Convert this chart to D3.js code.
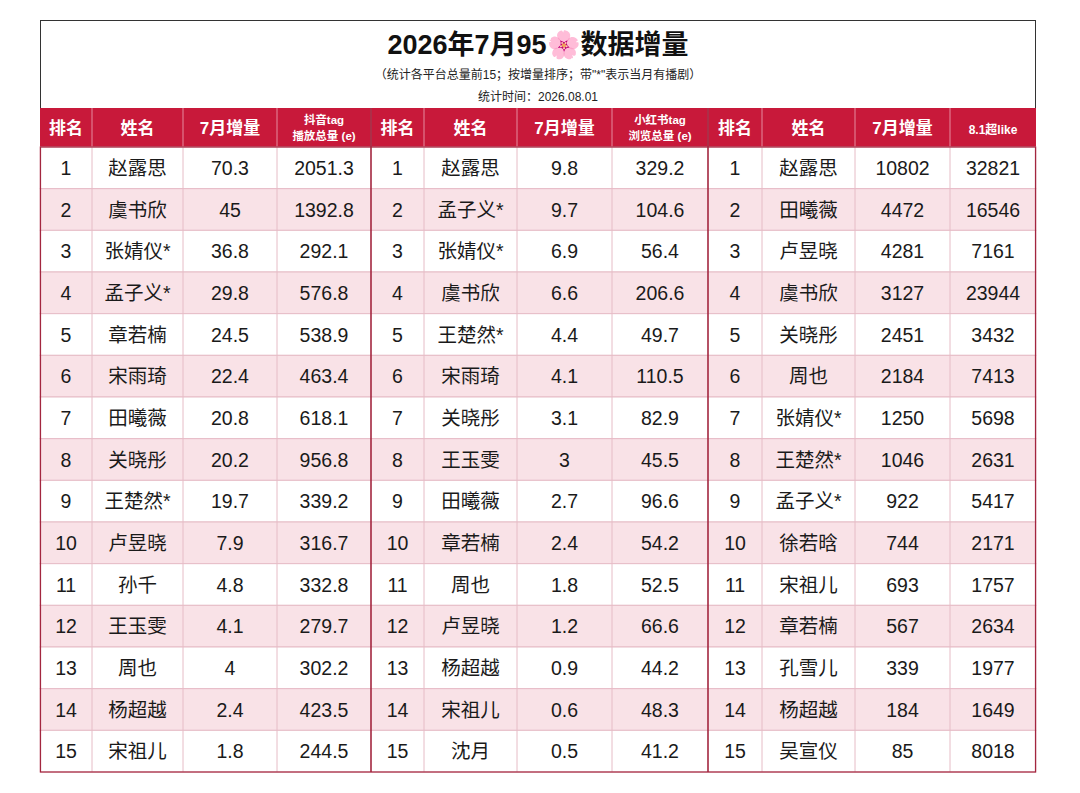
<!DOCTYPE html>
<html><head><meta charset="utf-8">
<script src="https://cdn.jsdelivr.net/npm/d3@7"></script>
<style>body{margin:0;background:#fff}svg{display:block}</style>
</head><body>
<script>
// data
const ranks = d3.range(1, 16);
const douyinNames = ['赵露思','虞书欣','张婧仪*','孟子义*','章若楠','宋雨琦','田曦薇','关晓彤','王楚然*','卢昱晓','孙千','王玉雯','周也','杨超越','宋祖儿'];
const douyinInc = ['70.3','45','36.8','29.8','24.5','22.4','20.8','20.2','19.7','7.9','4.8','4.1','4','2.4','1.8'];
const douyinTotal = ['2051.3','1392.8','292.1','576.8','538.9','463.4','618.1','956.8','339.2','316.7','332.8','279.7','302.2','423.5','244.5'];
const xhsNames = ['赵露思','孟子义*','张婧仪*','虞书欣','王楚然*','宋雨琦','关晓彤','王玉雯','田曦薇','章若楠','周也','卢昱晓','杨超越','宋祖儿','沈月'];
const xhsInc = ['9.8','9.7','6.9','6.6','4.4','4.1','3.1','3','2.7','2.4','1.8','1.2','0.9','0.6','0.5'];
const xhsTotal = ['329.2','104.6','56.4','206.6','49.7','110.5','82.9','45.5','96.6','54.2','52.5','66.6','44.2','48.3','41.2'];
const likeNames = ['赵露思','田曦薇','卢昱晓','虞书欣','关晓彤','周也','张婧仪*','王楚然*','孟子义*','徐若晗','宋祖儿','章若楠','孔雪儿','杨超越','吴宣仪'];
const likeInc = ['10802','4472','4281','3127','2451','2184','1250','1046','922','744','693','567','339','184','85'];
const likeTotal = ['32821','16546','7161','23944','3432','7413','5698','2631','5417','2171','1757','2634','1977','1649','8018'];
const headers = ['排名','姓名','7月增量','抖音tag|播放总量 (e)','排名','姓名','7月增量','小红书tag|浏览总量 (e)','排名','姓名','7月增量','8.1超like'];
const columns = [ranks, douyinNames, douyinInc, douyinTotal, ranks, xhsNames, xhsInc, xhsTotal, ranks, likeNames, likeInc, likeTotal];
const colEdges = [40, 92, 183, 277, 371, 424, 517, 612, 708, 762, 855, 950, 1036];

const W = 1080, H = 793;
const svg = d3.select('body').append('svg').attr('width', W).attr('height', H);
const font = '"Liberation Sans", "Noto Sans CJK SC", sans-serif';

const y = d3.scaleBand().domain(d3.range(15)).range([147, 772]);

// title box
svg.append('rect').attr('x', 40.5).attr('y', 20.5).attr('width', 995).attr('height', 88)
  .attr('fill', '#fff').attr('stroke', '#333').attr('stroke-width', 1);
svg.append('text').attr('x', 538).attr('y', 54).attr('text-anchor', 'middle')
  .attr('font-family', font).attr('font-size', 27).attr('font-weight', 700).attr('fill', '#111')
  .text('2026年7月95🌸数据增量');
svg.append('text').attr('x', 538).attr('y', 79).attr('text-anchor', 'middle')
  .attr('font-family', font).attr('font-size', 12).attr('fill', '#222')
  .text('（统计各平台总量前15；按增量排序；带"*"表示当月有播剧）');
svg.append('text').attr('x', 538).attr('y', 101).attr('text-anchor', 'middle')
  .attr('font-family', font).attr('font-size', 12).attr('fill', '#222')
  .text('统计时间：2026.08.01');

// header row
svg.append('rect').attr('x', 40).attr('y', 108).attr('width', 996).attr('height', 39).attr('fill', '#c8193a');
headers.forEach((h, i) => {
  const cx = (colEdges[i] + colEdges[i + 1]) / 2;
  const parts = h.split('|');
  const t = svg.append('text').attr('text-anchor', 'middle').attr('font-family', font)
    .attr('fill', '#fff').attr('font-weight', 700);
  if (parts.length === 2) {
    t.attr('font-size', 11.5);
    t.append('tspan').attr('x', cx).attr('y', 124).text(parts[0]);
    t.append('tspan').attr('x', cx).attr('y', 140).text(parts[1]);
  } else {
    t.attr('x', cx).attr('y', 134).attr('font-size', h === '8.1超like' ? 12 : 17).text(h);
  }
  if (i > 0) svg.append('line').attr('x1', colEdges[i]).attr('x2', colEdges[i]).attr('y1', 108).attr('y2', 147)
    .attr('stroke', '#e58c9e').attr('stroke-width', 1);
});

// body rows
svg.selectAll('rect.row').data(d3.range(15)).join('rect').attr('class', 'row')
  .attr('x', 40).attr('y', d => y(d)).attr('width', 996).attr('height', y.bandwidth())
  .attr('fill', d => d % 2 ? '#f9e2e7' : '#fff')
  .attr('stroke', '#e6bcc6').attr('stroke-width', 1);

colEdges.slice(1, -1).forEach((x, i) => {
  const major = i === 3 || i === 7;
  svg.append('line').attr('x1', x).attr('x2', x).attr('y1', major ? 108 : 147).attr('y2', 772)
    .attr('stroke', major ? '#a3263f' : '#e6bcc6').attr('stroke-width', major ? 1.6 : 1);
});
svg.append('rect').attr('x', 40.5).attr('y', 147).attr('width', 995).attr('height', 625)
  .attr('fill', 'none').attr('stroke', '#a3263f').attr('stroke-width', 1.2);

columns.forEach((col, ci) => {
  const cx = (colEdges[ci] + colEdges[ci + 1]) / 2;
  svg.append('g').selectAll('text').data(col).join('text')
    .attr('x', cx).attr('y', (d, i) => y(i) + y.bandwidth() / 2 + 7)
    .attr('text-anchor', 'middle').attr('font-family', font).attr('font-size', 19.5)
    .attr('fill', '#1a1a1a').text(d => d);
});
</script>
</body></html>
